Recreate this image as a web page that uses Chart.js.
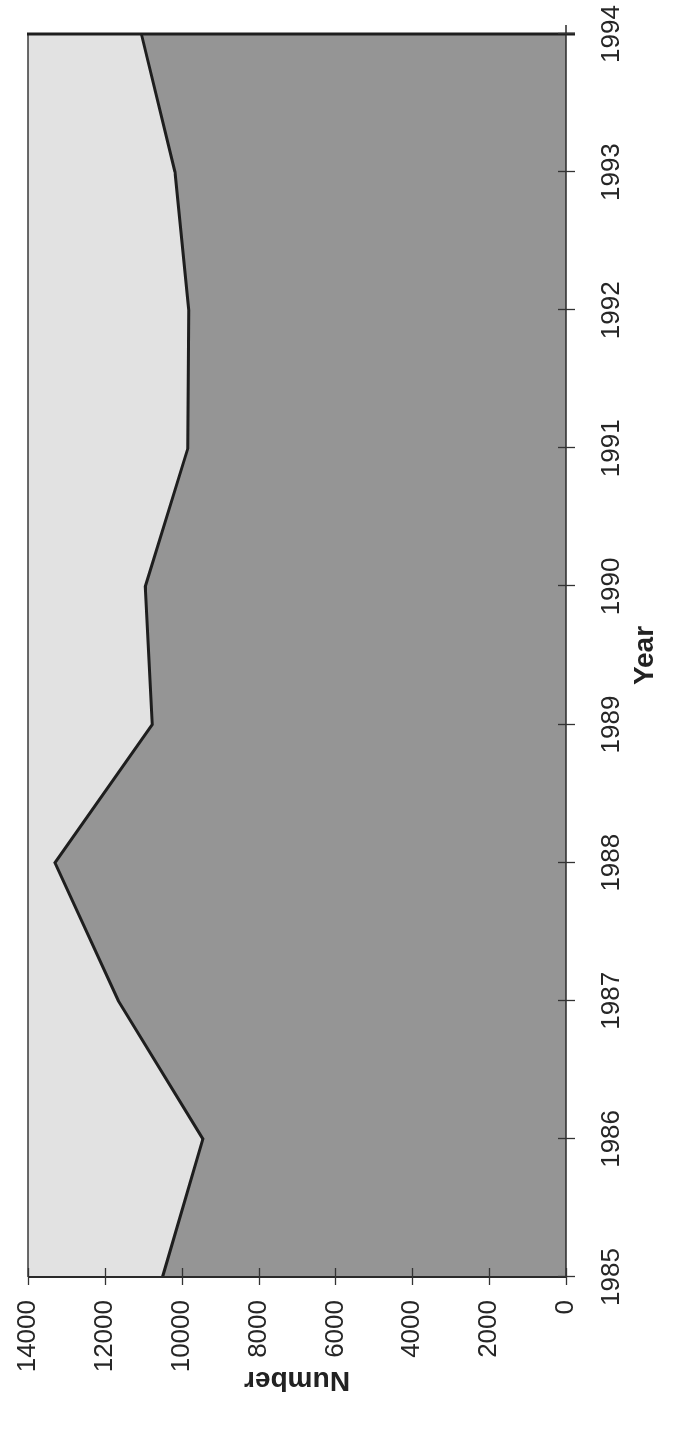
<!DOCTYPE html>
<html>
<head>
<meta charset="utf-8">
<script src="https://cdn.jsdelivr.net/npm/chart.js@4.4.1/dist/chart.umd.min.js"></script>
<style>
  html, body { margin: 0; padding: 0; background: #ffffff; width: 674px; height: 1429px; overflow: hidden; }
  #wrap {
    position: absolute; left: 0; top: 0;
    width: 1429px; height: 674px;
    transform-origin: 0 0;
    transform: translate(0px, 1429px) rotate(-90deg);
  }
  canvas { display: block; }
</style>
</head>
<body>
<div id="wrap"><canvas id="c" width="1429" height="674"></canvas></div>
<script>
// ---- data ----
const years = ['1985', '1986', '1987', '1988', '1989', '1990', '1991', '1992', '1993', '1994'];
const numbers = [10500, 9450, 11650, 13300, 10770, 10950, 9840, 9820, 10175, 11050];
const numberTicks = [0, 2000, 4000, 6000, 8000, 10000, 12000, 14000];
const xTitle = 'Year';
const yTitle = 'Number';

const FONT = '"Liberation Sans", Arial, "DejaVu Sans", sans-serif';

const plotBackground = {
  id: 'plotBackground',
  beforeDatasetsDraw(chart) {
    const { ctx, chartArea: a } = chart;
    ctx.save();
    ctx.fillStyle = '#e2e2e2';
    ctx.fillRect(a.left, a.top, a.right - a.left, a.bottom - a.top);
    ctx.restore();
  }
};

const frameAndTicks = {
  id: 'frameAndTicks',
  afterDatasetsDraw(chart) {
    const { ctx, chartArea: a, scales } = chart;
    const x = scales.x, y = scales.y;
    ctx.save();
    ctx.lineCap = 'butt';
    const line = (x1, y1, x2, y2, w, c) => {
      ctx.beginPath(); ctx.lineWidth = w; ctx.strokeStyle = c;
      ctx.moveTo(x1, y1); ctx.lineTo(x2, y2); ctx.stroke();
    };
    // frame
    line(a.left, a.top, a.right, a.top, 1.5, '#3a3a3a');          // top
    line(a.right, a.top - 1, a.right, a.bottom + 9, 3, '#1e1e1e'); // right
    line(a.left, a.top, a.left, a.bottom + 1, 2, '#2a2a2a');        // left axis
    line(a.left - 1, a.bottom, a.right + 9, a.bottom, 1.5, '#2a2a2a'); // bottom axis
    // crossing tick marks
    y.ticks.forEach(t => {
      const py = Math.round(y.getPixelForValue(t.value)) + 0.5;
      line(a.left - 8, py, a.left + 9, py, 1.3, '#333333');
    });
    x.ticks.forEach((t, i) => {
      const px = Math.round(x.getPixelForTick(i)) + 0.5;
      line(px, a.bottom - 8, px, a.bottom + 9, 1.3, '#333333');
    });
    ctx.restore();
  }
};

new Chart(document.getElementById('c'), {
  type: 'line',
  data: {
    labels: years,
    datasets: [{
      label: yTitle,
      data: numbers,
      fill: 'origin',
      backgroundColor: '#959595',
      borderColor: '#1e1e1e',
      borderWidth: 3,
      pointRadius: 0,
      tension: 0
    }]
  },
  options: {
    responsive: false,
    animation: false,
    devicePixelRatio: 1,
    layout: { padding: { left: 0, top: 28, right: 34, bottom: 0 } },
    plugins: { legend: { display: false }, tooltip: { enabled: false } },
    scales: {
      x: {
        type: 'category',
        offset: false,
        grid: { display: false, drawTicks: false },
        border: { display: false },
        ticks: { color: '#262626', font: { family: FONT, size: 26 }, padding: 30, maxRotation: 0, autoSkip: false },
        title: { display: true, text: xTitle, color: '#222', font: { family: FONT, size: 28, weight: 'bold' }, padding: { top: 0, bottom: 12 } },
        afterFit(s) { s.height = 108; s.paddingLeft = 0; s.paddingRight = 0; }
      },
      y: {
        min: 0, max: 14000,
        grid: { display: false, drawTicks: false },
        border: { display: false },
        afterBuildTicks(s) { s.ticks = numberTicks.map(v => ({ value: v })); },
        ticks: { color: '#262626', font: { family: FONT, size: 26 }, padding: 23, callback: v => String(v) },
        title: { display: true, text: yTitle, color: '#222', font: { family: FONT, size: 28, weight: 'bold' }, padding: { top: 32, bottom: 0 } },
        afterFit(s) { s.width = 152; s.paddingTop = 0; s.paddingBottom = 0; }
      }
    }
  },
  plugins: [plotBackground, frameAndTicks]
});
</script>
</body>
</html>
